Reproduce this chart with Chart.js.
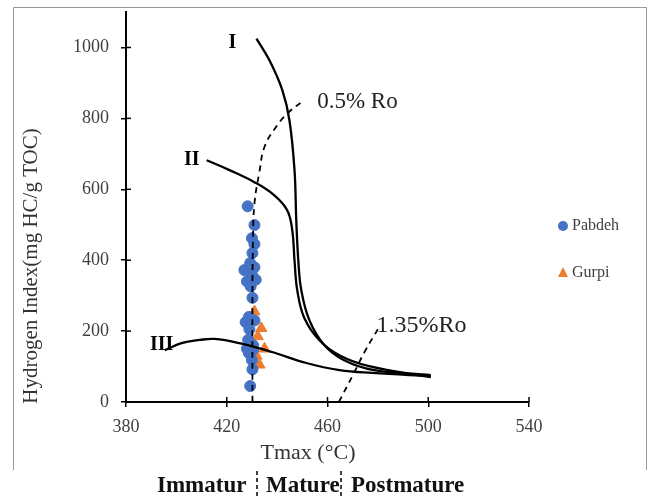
<!DOCTYPE html>
<html>
<head>
<meta charset="utf-8">
<script src="https://cdn.jsdelivr.net/npm/chart.js@4/dist/chart.umd.min.js"></script>
<style>
  html, body { margin: 0; padding: 0; background: #fff; }
  #wrap { width: 654px; height: 497px; position: relative; }
</style>
</head>
<body>
<div id="wrap"><canvas id="c"></canvas></div>
<script>
// x ticks / y ticks
const xTicks = [380, 420, 460, 500, 540];
const yTicks = [0, 200, 400, 600, 800, 1000];

// samples (Tmax °C, HI)
const pabdehT  = [428.3, 431, 430, 431, 430.2, 429.3, 431, 427, 430, 428, 431.5, 429.5, 430.2, 428.8, 427.5, 431, 429, 428.5, 430.5, 428, 430.5, 428.8, 430, 430.2, 429.3];
const pabdehHI = [552, 499, 462, 445, 420, 392, 380, 372, 358, 340, 345, 326, 294, 240, 225, 230, 205, 175, 160, 150, 148, 138, 118, 92, 45];
const gurpiT   = [431, 433.7, 432.3, 435, 433, 431.8];
const gurpiHI  = [255, 208, 185, 150, 105, 130];

// kerogen type curves
const typeIT   = [431.8, 437, 442.1, 444.9, 446.9, 447.6, 448.4, 449.6, 452.8, 458.7, 466.6, 478.5, 501];
const typeIHI  = [1025, 963, 879, 794, 654, 513, 400, 315, 231, 161, 118, 90, 76];
const typeIIT  = [412, 421.1, 431, 438.9, 444, 446, 446.9, 448, 450.8, 456.7, 464.7, 476.5, 501];
const typeIIHI = [682, 654, 620, 583, 541, 485, 400, 315, 237, 175, 132, 101, 70];
const typeIIIT  = [395.4, 402, 409.3, 415.2, 425, 438, 451.6, 464.7, 477.7, 501];
const typeIIIHI = [146, 166, 175, 178, 166, 141, 110, 90, 82, 73];

// vitrinite reflectance lines
const ro05T  = [430.2, 430.2, 430.4, 431, 433, 435, 440, 445, 450.8];
const ro05HI = [0, 300, 450, 560, 650, 720, 780, 820, 851];
const ro135T  = [464.5, 470, 475, 480];
const ro135HI = [0, 75, 145, 205];

const pts = (xs, ys) => xs.map((x, i) => ({ x: x, y: ys[i] }));
const serif = '"Liberation Serif", "DejaVu Serif", serif';

const curve = (xs, ys) => ({
  type: 'line', data: pts(xs, ys), showLine: true, borderColor: '#000', borderWidth: 2.3,
  pointRadius: 0, tension: 0.4, fill: false, order: 1
});
const dashed = (xs, ys) => ({
  type: 'line', data: pts(xs, ys), showLine: true, borderColor: '#000', borderWidth: 1.8,
  borderDash: [6, 5], pointRadius: 0, tension: 0.4, fill: false, order: 1
});

const extras = {
  id: 'extras',
  afterDraw(chart) {
    const { ctx, scales: { x, y }, chartArea: a } = chart;
    ctx.save();
    // frame
    ctx.strokeStyle = '#999'; ctx.lineWidth = 1;
    ctx.beginPath();
    ctx.moveTo(13.5, 470); ctx.lineTo(13.5, 7.5); ctx.lineTo(646.5, 7.5); ctx.lineTo(646.5, 470);
    ctx.stroke();
    // inner halves of cross ticks
    ctx.strokeStyle = '#000'; ctx.lineWidth = 1.5;
    yTicks.forEach(v => {
      const p = y.getPixelForValue(v);
      ctx.beginPath(); ctx.moveTo(a.left, p); ctx.lineTo(a.left + 5, p); ctx.stroke();
    });
    xTicks.forEach(v => {
      const p = x.getPixelForValue(v);
      ctx.beginPath(); ctx.moveTo(p, a.bottom); ctx.lineTo(p, a.bottom - 5); ctx.stroke();
    });
    // curve labels
    ctx.fillStyle = '#000'; ctx.textBaseline = 'middle'; ctx.textAlign = 'left';
    ctx.font = 'bold 20px ' + serif;
    ctx.fillText('I', x.getPixelForValue(421.9) - 3, y.getPixelForValue(1014));
    ctx.fillText('II', x.getPixelForValue(403), y.getPixelForValue(682));
    ctx.fillText('III', x.getPixelForValue(389.5), y.getPixelForValue(160));
    ctx.fillStyle = '#222';
    ctx.font = '23px ' + serif;
    ctx.fillText('0.5% Ro', x.getPixelForValue(455.9), y.getPixelForValue(845));
    ctx.font = '24px ' + serif;
    ctx.fillText('1.35%Ro', x.getPixelForValue(479.5), y.getPixelForValue(216));
    // axis titles
    ctx.fillStyle = '#333'; ctx.textAlign = 'center';
    ctx.font = '22px ' + serif;
    ctx.fillText('Tmax (°C)', 308, 453);
    ctx.save();
    ctx.translate(31, 266); ctx.rotate(-Math.PI / 2);
    ctx.font = '21px ' + serif;
    ctx.fillText('Hydrogen Index(mg HC/g TOC)', 0, 0);
    ctx.restore();
    // maturity zones
    ctx.fillStyle = '#111'; ctx.font = 'bold 23px ' + serif; ctx.textAlign = 'left';
    ctx.fillText('Immatur', 157, 486);
    ctx.fillText('Mature', 266, 486);
    ctx.fillText('Postmature', 351, 486);
    ctx.strokeStyle = '#000'; ctx.lineWidth = 1.5; ctx.setLineDash([4, 3]);
    [257, 341].forEach(px => {
      ctx.beginPath(); ctx.moveTo(px, 471); ctx.lineTo(px, 497); ctx.stroke();
    });
    ctx.setLineDash([]);
    // legend
    ctx.fillStyle = '#4472C4';
    ctx.beginPath(); ctx.arc(563, 226, 5, 0, Math.PI * 2); ctx.fill();
    ctx.fillStyle = '#ED7D31';
    ctx.beginPath(); ctx.moveTo(563, 267); ctx.lineTo(568, 277); ctx.lineTo(558, 277); ctx.closePath(); ctx.fill();
    ctx.fillStyle = '#404040'; ctx.font = '16px ' + serif; ctx.textBaseline = 'middle';
    ctx.fillText('Pabdeh', 572, 226);
    ctx.fillText('Gurpi', 572, 273);
    ctx.restore();
  }
};

new Chart(document.getElementById('c'), {
  type: 'scatter',
  data: {
    datasets: [
      curve(typeIT, typeIHI),
      curve(typeIIT, typeIIHI),
      curve(typeIIIT, typeIIIHI),
      dashed(ro05T, ro05HI),
      dashed(ro135T, ro135HI),
      { label: 'Pabdeh', data: pts(pabdehT, pabdehHI), pointStyle: 'circle', pointRadius: 5.5,
        backgroundColor: '#4472C4', borderColor: '#4472C4', order: 2 },
      { label: 'Gurpi', data: pts(gurpiT, gurpiHI), pointStyle: 'triangle', pointRadius: 6.5,
        backgroundColor: '#ED7D31', borderColor: '#ED7D31', order: 2 }
    ]
  },
  options: {
    responsive: true,
    maintainAspectRatio: false,
    animation: false,
    layout: { padding: { top: 12, right: 125, left: 0, bottom: 0 } },
    plugins: { legend: { display: false }, tooltip: { enabled: false } },
    scales: {
      x: {
        type: 'linear', min: 380, max: 540,
        afterFit: s => { s.height = 95; s.paddingLeft = 0; s.paddingRight = 0; },
        afterBuildTicks: s => { s.ticks = xTicks.map(v => ({ value: v })); },
        grid: { display: true, drawOnChartArea: false, tickLength: 5, color: '#000', lineWidth: 1.5 },
        border: { color: '#000', width: 2 },
        ticks: { padding: 9, color: '#404040', font: { family: serif, size: 18 }, callback: v => String(v) }
      },
      y: {
        type: 'linear', min: 0, max: 1100,
        afterFit: s => { s.width = 126; s.paddingTop = 0; s.paddingBottom = 0; },
        afterBuildTicks: s => { s.ticks = yTicks.map(v => ({ value: v })); },
        grid: { display: true, drawOnChartArea: false, tickLength: 5, color: '#000', lineWidth: 1.5 },
        border: { color: '#000', width: 2 },
        ticks: { padding: 12, color: '#404040', font: { family: serif, size: 18 }, callback: v => String(v) }
      }
    }
  },
  plugins: [extras]
});
</script>
</body>
</html>
